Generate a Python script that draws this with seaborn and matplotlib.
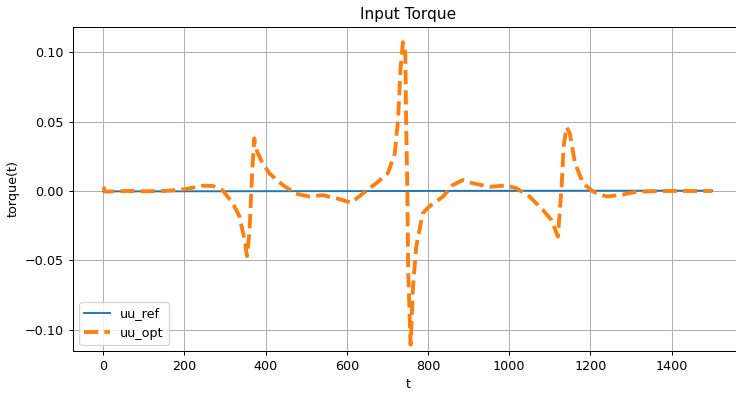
import matplotlib
matplotlib.use("Agg")
import matplotlib.pyplot as plt
import seaborn as sns
import numpy as np

# uu_opt
t_opt = [0, 5, 20, 60, 100, 150, 200, 245, 270, 294, 319, 335, 348, 354, 360, 367, 372,
         375, 389, 409, 442, 475, 508, 541, 574, 611, 640, 672, 701, 718, 726, 732, 738,
         744, 746, 749, 751, 755, 757, 763, 771, 787, 804, 837, 861, 886, 911, 952, 993,
         1018, 1050, 1083, 1104, 1120, 1129, 1134, 1141, 1149, 1162, 1182, 1207, 1240,
         1273, 1314, 1380, 1440, 1500]
u_opt = [0.003, -0.0005, -0.0003, 0.0, -0.0002, 0.0, 0.0012, 0.0038, 0.0036, 0.0005,
         -0.0089, -0.018, -0.035, -0.047, -0.030, 0.015, 0.038,
         0.031, 0.022, 0.0127, 0.0043, -0.002, -0.004, -0.003, -0.0053, -0.0084, -0.0017,
         0.0055, 0.0127, 0.027, 0.051, 0.087, 0.1074,
         0.100, 0.051, 0.0, -0.057, -0.093, -0.111, -0.069, -0.040, -0.016, -0.011, -0.004,
         0.0043, 0.0079, 0.0055, 0.003, 0.004,
         0.0019, -0.004, -0.0137, -0.021, -0.033, 0.003, 0.032, 0.046, 0.042, 0.020, 0.0055,
         -0.0005, -0.004, -0.003, -0.0005, 0.0, 0.0, 0.0]

# uu_ref
t_ref = [0, 300, 600, 900, 1200, 1500]
u_ref = [-0.0003, -0.0002, -0.0001, 0.0001, 0.0002, 0.0002]

fig = plt.figure(figsize=(8.0, 400 / 92), dpi=92)
ax = fig.add_axes([0.099, 0.1225, 1.009 - 0.099, 0.933 - 0.1225])

sns.lineplot(x=t_ref, y=u_ref, ax=ax, label="uu_ref", color="#1f77b4", linewidth=1.5)
sns.lineplot(x=t_opt, y=u_opt, ax=ax, label="uu_opt", color="#ff7f0e", linewidth=3,
             linestyle="--")

ax.set_xlim(-75, 1575)
ax.set_ylim(-0.1155, 0.1185)
ax.set_xticks([0, 200, 400, 600, 800, 1000, 1200, 1400])
ax.set_yticks([-0.10, -0.05, 0.00, 0.05, 0.10])
ax.grid(True)
ax.set_title("Input Torque")
ax.set_xlabel("t")
ax.set_ylabel("torque(t)")
ax.legend(loc="lower left")

fig.savefig("out.png", dpi=92)
